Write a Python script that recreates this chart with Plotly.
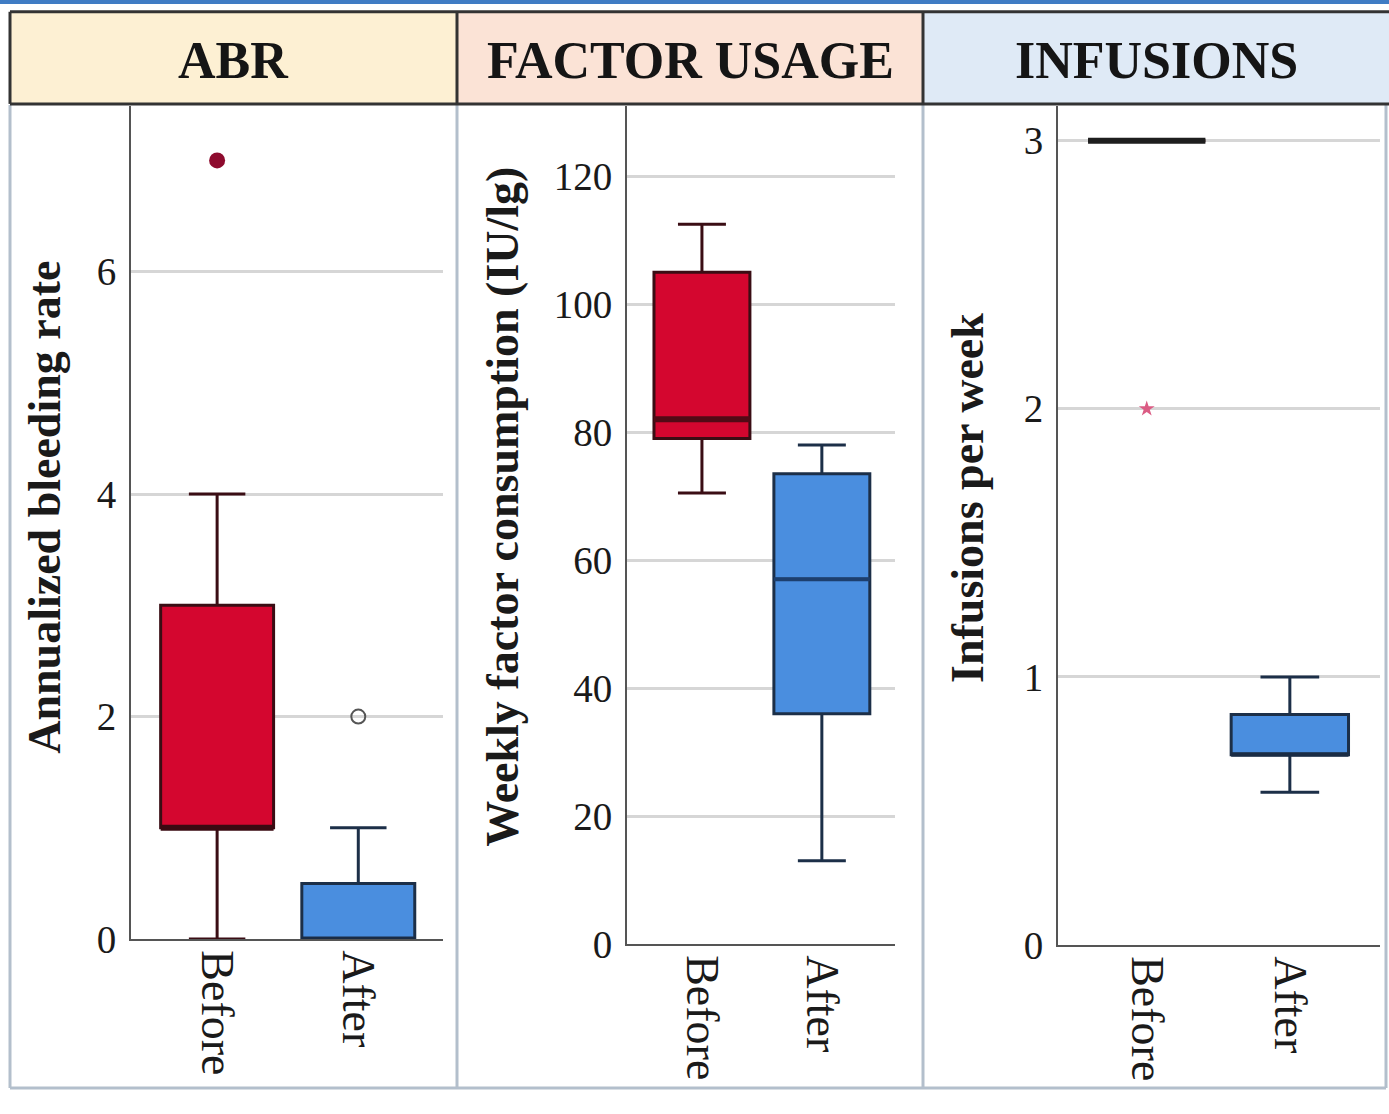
import plotly.graph_objects as go

# ---------------- data ----------------
groups = ["Before", "After"]
panel_titles = ["ABR", "FACTOR USAGE", "INFUSIONS"]
y_titles = ["Annualized bleeding rate", "Weekly factor consumption (IU/lg)", "Infusions per week"]

abr_q1 = [1, 0]
abr_median = [1, 0]
abr_q3 = [3, 0.5]
abr_lower = [0, 0]
abr_upper = [4, 1]
abr_outlier_before = [7]
abr_outlier_after = [2]

factor_q1 = [79, 36]
factor_median = [82, 57]
factor_q3 = [105, 73.5]
factor_lower = [70.5, 13]
factor_upper = [112.5, 78]

inf_q1 = [3, 0.71]
inf_median = [3, 0.71]
inf_q3 = [3, 0.86]
inf_lower = [3, 0.57]
inf_upper = [3, 1.0]
inf_extreme_before = [2]

abr_ticks = [0, 2, 4, 6]
factor_ticks = [0, 20, 40, 60, 80, 100, 120]
inf_ticks = [0, 1, 2, 3]

# ---------------- styling ----------------
W, H = 1389, 1114
def px(x): return x / W
def py(y): return 1 - y / H

FILLS = ["#D4062F", "#4A8EDF"]
OUTLINES = ["#3a0d14", "#1c2f48"]
MEDIAN_W = [6, 4]
SERIF = "Liberation Serif"

fig = go.Figure()

def add_boxes(q1, med, q3, lo, hi, xa, ya, width, med_colors):
    for i, g in enumerate(groups):
        fig.add_trace(go.Box(
            x=[g], q1=[q1[i]], median=[med[i]], q3=[q3[i]],
            lowerfence=[lo[i]], upperfence=[hi[i]],
            width=width, whiskerwidth=0.5, fillcolor=FILLS[i],
            line=dict(color=OUTLINES[i], width=3),
            boxpoints=False, showlegend=False, hoverinfo="skip",
            xaxis=xa, yaxis=ya))
        # thick SPSS-style median bar
        fig.add_trace(go.Box(
            x=[g], q1=[med[i]], median=[med[i]], q3=[med[i]],
            lowerfence=[med[i]], upperfence=[med[i]],
            width=width, whiskerwidth=0, fillcolor="rgba(0,0,0,0)",
            line=dict(color=med_colors[i], width=MEDIAN_W[i]),
            boxpoints=False, showlegend=False, hoverinfo="skip",
            xaxis=xa, yaxis=ya))

add_boxes(abr_q1, abr_median, abr_q3, abr_lower, abr_upper, "x", "y", 0.8, ["#3a0a12", "#1a2c45"])
add_boxes(factor_q1, factor_median, factor_q3, factor_lower, factor_upper, "x2", "y2", 0.8, ["#520a16", "#1d3f6e"])
add_boxes(inf_q1, inf_median, inf_q3, inf_lower, inf_upper, "x3", "y3", 0.82, ["#1e1e1e", "#1a2c45"])

fig.add_trace(go.Scatter(x=[groups[0]] * len(abr_outlier_before), y=abr_outlier_before, mode="markers",
                         marker=dict(symbol="circle", size=16, color="#8E0B2E"),
                         showlegend=False, xaxis="x", yaxis="y"))
fig.add_trace(go.Scatter(x=[groups[1]] * len(abr_outlier_after), y=abr_outlier_after, mode="markers",
                         marker=dict(symbol="circle-open", size=14, color="#555555", line=dict(width=2)),
                         showlegend=False, xaxis="x", yaxis="y"))
fig.add_trace(go.Scatter(x=[groups[0]] * len(inf_extreme_before), y=inf_extreme_before, mode="markers",
                         marker=dict(symbol="star", size=12, color="#DB5C84"),
                         showlegend=False, xaxis="x3", yaxis="y3"))

panels = [
    # x_left, x_right, y_zero_px, y_top_px, y max, ticks, x range, title x, title y
    (131, 443, 958, 108, 7.49, abr_ticks, [-0.61, 1.60], 45, 518),
    (627, 895, 963, 108, 131.0, factor_ticks, [-0.625, 1.61], 503, 517),
    (1058, 1380, 964, 108, 3.13, inf_ticks, [-0.62, 1.63], 968, 508),
]

layout_axes = {}
annotations = []
for i, (xl, xr, y0, yt, ymax, ticks, xr_range, tx, ty) in enumerate(panels):
    sfx = "" if i == 0 else str(i + 1)
    layout_axes["xaxis" + sfx] = dict(
        domain=[px(xl), px(xr)], anchor="y" + sfx,
        type="category", categoryorder="array", categoryarray=groups,
        range=xr_range, showline=True, linecolor="#555555", linewidth=2,
        showgrid=False, zeroline=False, ticks="", tickangle=90,
        tickfont=dict(family=SERIF, size=46, color="#1a1a1a"),
        ticklabelstandoff=0, fixedrange=True)
    layout_axes["yaxis" + sfx] = dict(
        domain=[py(y0), py(yt)], anchor="x" + sfx,
        range=[0, ymax], tickvals=ticks, ticktext=[str(t) for t in ticks],
        showline=True, linecolor="#555555", linewidth=2,
        showgrid=True, gridcolor="#D6D6D6", gridwidth=3, zeroline=False,
        ticks="", tickfont=dict(family=SERIF, size=39, color="#1a1a1a"),
        ticklabelstandoff=5, fixedrange=True)
    annotations.append(dict(text="<b>" + y_titles[i] + "</b>", textangle=-90,
                            x=px(tx), y=py(ty), xref="paper", yref="paper",
                            xanchor="center", yanchor="middle", showarrow=False,
                            font=dict(family=SERIF, size=46, color="#1a1a1a")))

shapes = []
cells = [(10, 457, "#FDF0D3"), (457, 923, "#FBE3D6"), (923, 1389, "#DFEAF6")]
for x0, x1, c in cells:
    shapes.append(dict(type="rect", xref="paper", yref="paper",
                       x0=px(x0), x1=px(x1), y0=py(106), y1=py(12),
                       fillcolor=c, line=dict(width=0), layer="below"))
shapes.append(dict(type="line", xref="paper", yref="paper", x0=px(10), x1=1, y0=py(12), y1=py(12),
                   line=dict(color="#333333", width=3)))
shapes.append(dict(type="line", xref="paper", yref="paper", x0=px(10), x1=1, y0=py(106), y1=py(106),
                   line=dict(color="#333333", width=3)))
for xv in [10, 457, 923]:
    shapes.append(dict(type="line", xref="paper", yref="paper", x0=px(xv), x1=px(xv), y0=py(106), y1=py(12),
                       line=dict(color="#333333", width=3)))
for xv in [10, 457, 923, 1386]:
    shapes.append(dict(type="line", xref="paper", yref="paper", x0=px(xv), x1=px(xv), y0=py(1110), y1=py(107),
                       line=dict(color="#B3BFCC", width=3), layer="below"))
shapes.append(dict(type="line", xref="paper", yref="paper", x0=px(10), x1=px(1386), y0=py(1110), y1=py(1110),
                   line=dict(color="#B3BFCC", width=3), layer="below"))
shapes.append(dict(type="rect", xref="paper", yref="paper", x0=0, x1=1, y0=py(4), y1=1,
                   fillcolor="#3F7CC4", line=dict(width=0)))

for (x0, x1, _), t in zip(cells, panel_titles):
    annotations.append(dict(text="<b>" + t + "</b>", x=px((x0 + x1) / 2), y=py(62),
                            xref="paper", yref="paper", showarrow=False,
                            xanchor="center", yanchor="middle",
                            font=dict(family=SERIF, size=52, color="#151515")))

fig.update_layout(
    width=W, height=H, autosize=False,
    margin=dict(l=0, r=0, t=0, b=0),
    paper_bgcolor="white", plot_bgcolor="white",
    shapes=shapes, annotations=annotations, showlegend=False,
    **layout_axes)

fig.write_html("out.html", config={"displayModeBar": False},
               post_script="document.documentElement.style.margin='0';document.body.style.margin='0';")
